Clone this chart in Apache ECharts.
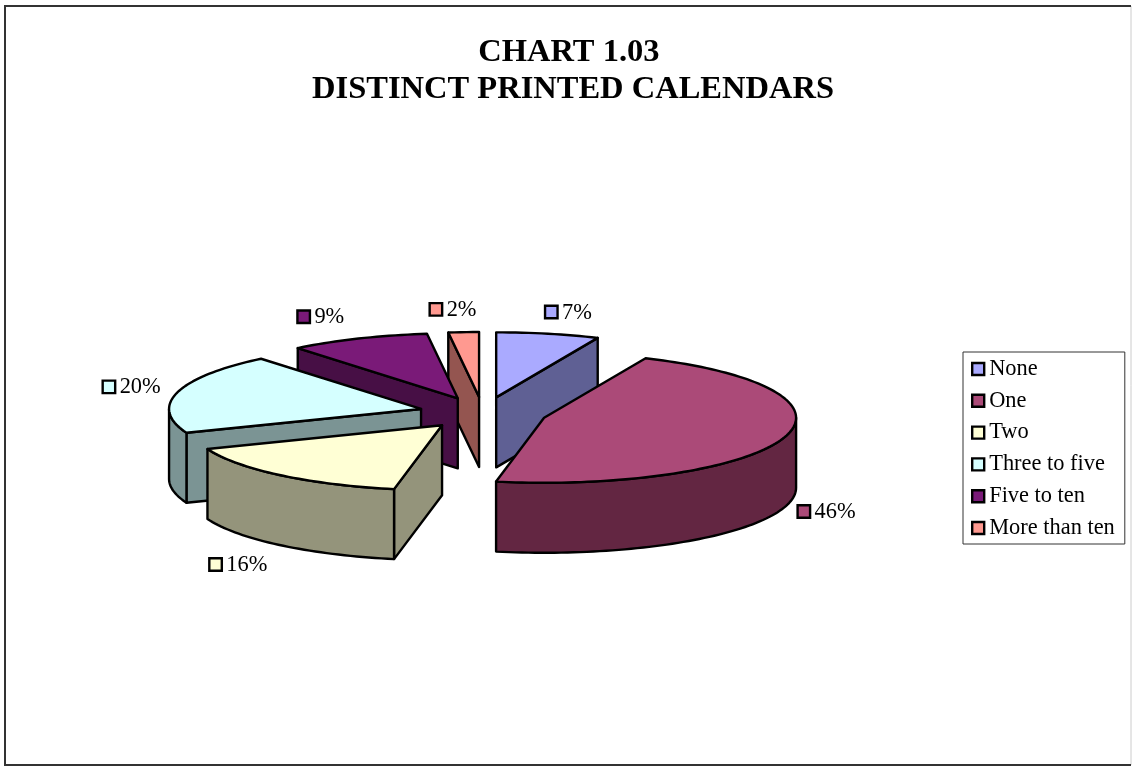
<!DOCTYPE html>
<html>
<head>
<meta charset="utf-8">
<style>html,body{margin:0;padding:0;background:#fff}#c{width:1132px;height:766px}</style>
<script src="https://cdn.jsdelivr.net/npm/echarts@6/dist/echarts.min.js"></script>
</head>
<body>
<div id="c"></div>
<script>
const categories = ['None', 'One', 'Two', 'Three to five', 'Five to ten', 'More than ten'];
const percents = [6.6, 46.45, 16, 20, 9, 1.95];
const topColors = ['#AAAAFF', '#AB4A78', '#FFFFD5', '#D5FFFF', '#7A1A78', '#FF9990'];
const sideColors = ['#5F6094', '#632642', '#94947B', '#7B9494', '#470F45', '#945550'];

// Layout of the flattened 3D pie (style, not data)
const pie = { cx: 483, cy: 413, rx: 252, ry: 65, depth: 70, explodeX: 64, explodeY: 16 };
const paintOrder = [2, 3, 5, 4, 1, 0]; // per slice: higher paints later
const labelNudge = [[3, -22], [19, 74], [-65.5, 89], [-68.5, -6], [-55, -22], [-28, -23]];
const INK = '#000';
const FONT = '"Liberation Serif", "Times New Roman", serif';

const total = percents.reduce(function (a, b) { return a + b; }, 0);
const DEG = Math.PI / 180;

function sliceGeometry(index) {
  let before = 0;
  for (let i = 0; i < index; i++) before += percents[i];
  const start = before / total * 360;
  const end = (before + percents[index]) / total * 360;
  const mid = (start + end) / 2;
  const ox = pie.cx + pie.explodeX * Math.sin(mid * DEG);
  const oy = pie.cy - pie.explodeY * Math.cos(mid * DEG);
  return { start, end, mid, ox, oy };
}
function rim(g, a) {
  return [g.ox + pie.rx * Math.sin(a * DEG), g.oy - pie.ry * Math.cos(a * DEG)];
}
function arc(g, a0, a1) {
  const pts = [];
  const n = Math.max(2, Math.ceil((a1 - a0) / 1.5));
  for (let i = 0; i <= n; i++) pts.push(rim(g, a0 + (a1 - a0) * i / n));
  return pts;
}
function down(p) { return [p[0], p[1] + pie.depth]; }
function face(points, fill, z2) {
  return {
    type: 'polygon', z2: z2,
    shape: { points: points },
    style: { fill: fill, stroke: INK, lineWidth: 2.4, lineJoin: 'round' }
  };
}

function renderSlice(index) {
  return function () {
    const g = sliceGeometry(index);
    const kids = [];
    const side = sideColors[index];
    const apex = [g.ox, g.oy];
    // visible cut faces
    if (Math.sin(g.start * DEG) < 0) {
      const p = rim(g, g.start);
      kids.push(face([apex, p, down(p), down(apex)], side, 1));
    }
    if (Math.sin(g.end * DEG) > 0) {
      const p = rim(g, g.end);
      kids.push(face([apex, p, down(p), down(apex)], side, 1));
    }
    // visible outer wall (front half of the ellipse)
    const a0 = Math.max(g.start, 90), a1 = Math.min(g.end, 270);
    if (a1 > a0) {
      const wall = arc(g, a0, a1);
      kids.push(face(wall.concat(wall.slice().reverse().map(down)), side, 2));
    }
    // top face
    kids.push(face([apex].concat(arc(g, g.start, g.end)), topColors[index], 3));
    // data label with its key
    const m = rim(g, g.mid);
    const lx = m[0] + labelNudge[index][0], ly = m[1] + labelNudge[index][1];
    kids.push({
      type: 'rect', z2: 10,
      shape: { x: lx - 6, y: ly - 6, width: 12.5, height: 12.5 },
      style: { fill: topColors[index], stroke: INK, lineWidth: 2.4 }
    });
    kids.push({
      type: 'text', z2: 10,
      style: {
        x: lx + 11, y: ly + 1, text: Math.round(percents[index]) + '%',
        fill: '#000', font: '22.4px ' + FONT, textAlign: 'left', textVerticalAlign: 'middle'
      }
    });
    return { type: 'group', children: kids };
  };
}

const chart = echarts.init(document.getElementById('c'), null, { renderer: 'canvas' });
chart.setOption({
  animation: false,
  backgroundColor: '#fff',
  title: {
    text: 'CHART 1.03 \nDISTINCT PRINTED CALENDARS',
    left: 568, top: 29, textAlign: 'center',
    textStyle: { fontFamily: FONT, fontSize: 32.5, fontWeight: 'bold', color: '#000', lineHeight: 37 }
  },
  legend: {
    orient: 'vertical', left: 963, top: 352,
    padding: [6, 10, 5, 8],
    borderColor: '#333', borderWidth: 1, backgroundColor: '#fff',
    itemWidth: 12, itemHeight: 12, itemGap: 9.8,
    icon: 'rect',
    selectedMode: false,
    itemStyle: { borderColor: '#000', borderWidth: 2.4 },
    textStyle: { fontFamily: FONT, fontSize: 22.4, color: '#000', lineHeight: 22 },
    data: categories
  },
  graphic: [
    {
      type: 'line', silent: true, z: -1,
      shape: { x1: 1131, y1: 6, x2: 1131, y2: 765 },
      style: { stroke: '#ccc', lineWidth: 1 }
    },
    {
      type: 'polyline', silent: true, z: -1,
      shape: { points: [[1131, 6], [5, 6], [5, 765], [1131, 765]] },
      style: { fill: null, stroke: '#333', lineWidth: 2 }
    }
  ],
  series: categories.map(function (name, i) {
    return {
      type: 'custom',
      name: name,
      coordinateSystem: 'none',
      silent: true,
      z: 2 + paintOrder[i],
      itemStyle: { color: topColors[i] },
      data: [[percents[i]]],
      renderItem: renderSlice(i)
    };
  })
});
</script>
</body>
</html>
